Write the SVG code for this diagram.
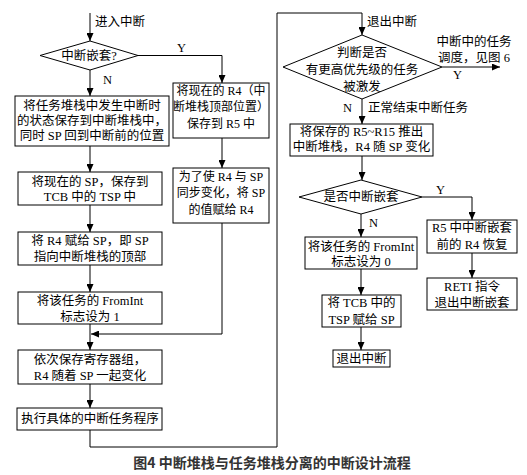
<svg xmlns="http://www.w3.org/2000/svg" width="527" height="475" viewBox="0 0 527 475">
<style>
text{font-family:"Liberation Serif","Noto Sans CJK SC",serif;font-size:12.5px;fill:#000;dominant-baseline:central}
.c{text-anchor:middle}
.s{font-size:12px}
.box{fill:#fff;stroke:#000;stroke-width:1}
.ln{fill:none;stroke:#000;stroke-width:1}
.cap{font-family:"Noto Sans CJK SC","Liberation Sans",sans-serif;font-size:14px;font-weight:bold;fill:#333;text-anchor:middle}
</style>
<defs>
<marker id="ah" markerUnits="userSpaceOnUse" markerWidth="8" markerHeight="7" refX="8" refY="3.5" orient="auto">
<path d="M0,0 L8,3.5 L0,7 z" fill="#000"/>
</marker>
</defs>
<rect width="527" height="475" fill="#fff"/>
<g id="connectors">
<path class="ln" d="M90,13 V41" marker-end="url(#ah)"/>
<path class="ln" d="M138,55.5 H222 V83" marker-end="url(#ah)"/>
<path class="ln" d="M90,70 V96" marker-end="url(#ah)"/>
<path class="ln" d="M90,146 V172" marker-end="url(#ah)"/>
<path class="ln" d="M222,138 V168" marker-end="url(#ah)"/>
<path class="ln" d="M90,205 V232" marker-end="url(#ah)"/>
<path class="ln" d="M90,265 V292" marker-end="url(#ah)"/>
<path class="ln" d="M222,223 V334 H91" marker-end="url(#ah)"/>
<path class="ln" d="M90,324 V350" marker-end="url(#ah)"/>
<path class="ln" d="M90,384 V408" marker-end="url(#ah)"/>
<path class="ln" d="M90,430 V447 H277 V13 H362 V35" marker-end="url(#ah)"/>
<path class="ln" d="M442,67 H500" marker-end="url(#ah)"/>
<path class="ln" d="M362,99 V124" marker-end="url(#ah)"/>
<path class="ln" d="M362,156 V180" marker-end="url(#ah)"/>
<path class="ln" d="M422,197 H472 V220" marker-end="url(#ah)"/>
<path class="ln" d="M361,214 V237" marker-end="url(#ah)"/>
<path class="ln" d="M472,253 V278" marker-end="url(#ah)"/>
<path class="ln" d="M361,269 V295" marker-end="url(#ah)"/>
<path class="ln" d="M361,327 V350" marker-end="url(#ah)"/>
<text x="95" y="22">进入中断</text>
<text x="177" y="48">Y</text>
<text x="103" y="80">N</text>
<text x="367" y="22">退出中断</text>
<text class="c" x="474" y="42">中断中的任务</text>
<text class="c" x="474" y="58">调度，见图 6</text>
<text x="453" y="75">Y</text>
<text x="343" y="108">N</text>
<text x="368" y="108">正常结束中断任务</text>
<text x="436" y="190">Y</text>
<text x="369" y="223">N</text>
</g>
<g id="d1">
<polygon class="box" points="90,41 138,55.5 90,70 40,55.5"/>
<text class="c" x="89" y="55.5">中断嵌套?</text>
</g>
<g id="b1">
<rect class="box" x="15" y="96" width="154" height="50"/>
<text class="c" x="92" y="106">将任务堆栈中发生中断时</text>
<text class="c" x="92" y="121">的状态保存到中断堆栈中，</text>
<text class="c" x="92" y="136">同时 SP 回到中断前的位置</text>
</g>
<g id="r1">
<rect class="box" x="173" y="83" width="96" height="55"/>
<text class="c s" x="221" y="91">将现在的 R4（中</text>
<text class="c s" x="221" y="107">断堆栈顶部位置）</text>
<text class="c s" x="221" y="124">保存到 R5 中</text>
</g>
<g id="b2">
<rect class="box" x="18" y="172" width="144" height="33"/>
<text class="c" x="90" y="182">将现在的 SP，保存到</text>
<text class="c" x="90" y="197">TCB 中的 TSP 中</text>
</g>
<g id="r2">
<rect class="box" x="173" y="168" width="96" height="55"/>
<text class="c s" x="221" y="177">为了使 R4 与 SP</text>
<text class="c s" x="221" y="193">同步变化，将 SP</text>
<text class="c s" x="221" y="210">的值赋给 R4</text>
</g>
<g id="b3">
<rect class="box" x="18" y="232" width="144" height="33"/>
<text class="c" x="90" y="241">将 R4 赋给 SP，即 SP</text>
<text class="c" x="90" y="257">指向中断堆栈的顶部</text>
</g>
<g id="b4">
<rect class="box" x="18" y="292" width="144" height="32"/>
<text class="c" x="90" y="301">将该任务的 FromInt</text>
<text class="c" x="90" y="317">标志设为 1</text>
</g>
<g id="b5">
<rect class="box" x="18" y="350" width="144" height="34"/>
<text class="c" x="90" y="360">依次保存寄存器组，</text>
<text class="c" x="90" y="376">R4 随着 SP 一起变化</text>
</g>
<g id="b6">
<rect class="box" x="17" y="408" width="145" height="22"/>
<text class="c" x="90" y="419">执行具体的中断任务程序</text>
</g>
<g id="d2">
<polygon class="box" points="362,35 442,67 362,99 283,67"/>
<text class="c" x="362" y="53">判断是否</text>
<text class="c" x="362" y="70">有更高优先级的任务</text>
<text class="c" x="362" y="87">被激发</text>
</g>
<g id="b7">
<rect class="box" x="290" y="124" width="143" height="32"/>
<text class="c" x="361.5" y="132">将保存的 R5~R15 推出</text>
<text class="c" x="361.5" y="147">中断堆栈，R4 随 SP 变化</text>
</g>
<g id="d3">
<polygon class="box" points="361,180 422,197 361,214 299,197"/>
<text class="c" x="361" y="197">是否中断嵌套</text>
</g>
<g id="b8">
<rect class="box" x="305" y="237" width="112" height="32"/>
<text class="c" x="361" y="247">将该任务的 FromInt</text>
<text class="c" x="361" y="262">标志设为 0</text>
</g>
<g id="b9">
<rect class="box" x="427" y="220" width="90" height="33"/>
<text class="c" x="472" y="228">R5 中中断嵌套</text>
<text class="c" x="472" y="245">前的 R4 恢复</text>
</g>
<g id="b10">
<rect class="box" x="427" y="278" width="90" height="32"/>
<text class="c" x="472" y="287">RETI 指令</text>
<text class="c" x="472" y="303">退出中断嵌套</text>
</g>
<g id="b11">
<rect class="box" x="322" y="295" width="79" height="32"/>
<text class="c" x="361.5" y="303">将 TCB 中的</text>
<text class="c" x="361.5" y="320">TSP 赋给 SP</text>
</g>
<g id="b12">
<rect class="box" x="333" y="350" width="57" height="17"/>
<text class="c" x="361.5" y="358.5">退出中断</text>
</g>
<text class="cap" x="272" y="462">图4 中断堆栈与任务堆栈分离的中断设计流程</text>
</svg>
